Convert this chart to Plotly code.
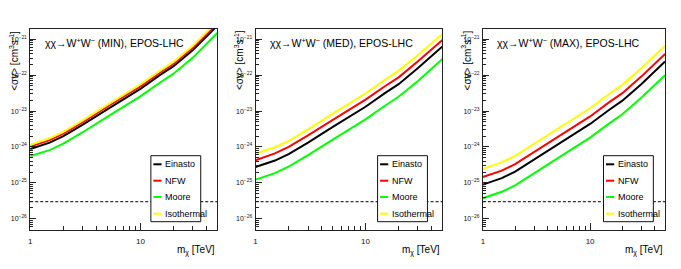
import math
import plotly.graph_objects as go

# ---------------- data ----------------
mass_tev = [1, 1.5, 2, 3, 5, 7, 10, 15, 20, 30, 40, 50]
profiles = ["Einasto", "NFW", "Moore", "Isothermal"]
profile_colors = ["#000000", "#ff0000", "#00ff00", "#ffff00"]
scenarios = ["MIN", "MED", "MAX"]
thermal_relic = 3e-26

min_einasto = [8.71e-25, 1.32e-24, 2.00e-24, 4.17e-24, 1.12e-23, 2.09e-23, 4.17e-23, 1.00e-22, 1.78e-22, 5.01e-22, 1.17e-21, 2.40e-21]
min_nfw = [1.02e-24, 1.55e-24, 2.34e-24, 4.90e-24, 1.32e-23, 2.45e-23, 4.90e-23, 1.17e-22, 2.09e-22, 5.89e-22, 1.38e-21, 2.82e-21]
min_moore = [5.62e-25, 8.13e-25, 1.23e-24, 2.57e-24, 6.92e-24, 1.29e-23, 2.57e-23, 6.17e-23, 1.10e-22, 3.09e-22, 7.41e-22, 1.51e-21]
min_iso = [1.15e-24, 1.74e-24, 2.63e-24, 5.50e-24, 1.48e-23, 2.75e-23, 5.50e-23, 1.32e-22, 2.34e-22, 6.61e-22, 1.55e-21, 3.16e-21]

med_einasto = [2.75e-25, 4.17e-25, 6.31e-25, 1.32e-24, 3.55e-24, 6.61e-24, 1.32e-23, 3.16e-23, 5.62e-23, 1.58e-22, 3.39e-22, 6.31e-22]
med_nfw = [4.27e-25, 6.61e-25, 1.00e-24, 2.09e-24, 5.62e-24, 1.05e-23, 2.09e-23, 4.90e-23, 8.71e-23, 2.45e-22, 5.25e-22, 9.55e-22]
med_moore = [1.23e-25, 1.86e-25, 2.82e-25, 5.89e-25, 1.58e-24, 2.95e-24, 5.89e-24, 1.41e-23, 2.51e-23, 6.92e-23, 1.48e-22, 2.82e-22]
med_iso = [6.46e-25, 9.77e-25, 1.48e-24, 3.09e-24, 8.32e-24, 1.55e-23, 3.09e-23, 7.41e-23, 1.32e-22, 3.63e-22, 7.76e-22, 1.41e-21]

max_einasto = [8.91e-26, 1.35e-25, 2.04e-25, 4.37e-25, 1.17e-24, 2.19e-24, 4.37e-24, 1.07e-23, 1.95e-23, 5.62e-23, 1.23e-22, 2.40e-22]
max_nfw = [1.45e-25, 2.19e-25, 3.31e-25, 7.08e-25, 1.91e-24, 3.55e-24, 7.08e-24, 1.74e-23, 3.16e-23, 9.12e-23, 2.00e-22, 3.89e-22]
max_moore = [3.72e-26, 5.62e-26, 8.51e-26, 1.82e-25, 4.90e-25, 9.12e-25, 1.82e-24, 4.47e-24, 8.13e-24, 2.34e-23, 5.13e-23, 1.00e-22]
max_iso = [2.45e-25, 3.72e-25, 5.62e-25, 1.20e-24, 3.24e-24, 6.03e-24, 1.20e-23, 2.95e-23, 5.37e-23, 1.55e-22, 3.39e-22, 6.61e-22]

panel_series = [
    [min_einasto, min_nfw, min_moore, min_iso],
    [med_einasto, med_nfw, med_moore, med_iso],
    [max_einasto, max_nfw, max_moore, max_iso],
]

y_tick_vals = [1e-26, 1e-25, 1e-24, 1e-23, 1e-22, 1e-21]
y_tick_text = ["10<sup>\u221226</sup>", "10<sup>\u221225</sup>", "10<sup>\u221224</sup>",
               "10<sup>\u221223</sup>", "10<sup>\u221222</sup>", "10<sup>\u221221</sup>"]
x_tick_vals = [1, 10]
x_tick_text = ["1", "10"]

# ---------------- layout geometry (page pixels) ----------------
PAGE_W, PAGE_H = 681, 269
BODY = 8  # default body margin of the html page
W, H = PAGE_W - 2 * BODY, PAGE_H - 2 * BODY
FONT = "Liberation Sans, Arial, sans-serif"
frames = [(28.3, 216.0), (254.3, 441.7), (482.3, 665.0)]
frame_top, frame_bot = 28.5, 229.5
legend_left = [149.3, 376.7, 603.3]
legend_w = 50.0
legend_top, legend_bot = 155.7, 221.7
legend_rows = [164.3, 180.7, 197.0, 213.7]

def px(x):
    return (x - BODY) / W

def py(y):
    return 1 - (y - BODY) / H

x_minor = [2, 3, 4, 5, 6, 7, 8, 9, 20, 30, 40]
y_minor = [m * 10.0 ** e for e in range(-27, -20) for m in range(2, 10)
           if 5e-27 <= m * 10.0 ** e <= 2e-21]

fig = go.Figure()
layout = dict(
    width=W, height=H,
    margin=dict(l=0, r=0, t=0, b=0),
    paper_bgcolor="white", plot_bgcolor="white",
    showlegend=False,
    font=dict(family=FONT, color="black"),
)
annotations = []
shapes = []

for i, (scen, series) in enumerate(zip(scenarios, panel_series)):
    k = "" if i == 0 else str(i + 1)
    xa, ya = "x" + k, "y" + k
    for name, col, vals in zip(profiles, profile_colors, series):
        fig.add_trace(go.Scatter(x=mass_tev, y=vals, mode="lines", name=name,
                                 line=dict(color=col, width=2),
                                 xaxis=xa, yaxis=ya))
    fig.add_trace(go.Scatter(x=[mass_tev[0], mass_tev[-1]], y=[thermal_relic, thermal_relic],
                             mode="lines", line=dict(color="#333333", width=1.2, dash="3px,2px"),
                             xaxis=xa, yaxis=ya, showlegend=False))
    l, r = frames[i]
    layout["xaxis" + k] = dict(
        type="log", range=[0, math.log10(50)], domain=[px(l), px(r)], anchor=ya,
        showgrid=False, zeroline=False, showline=True, linecolor="#222", linewidth=1, mirror=True,
        tickmode="array", tickvals=x_tick_vals, ticktext=x_tick_text,
        ticks="inside", ticklen=7, tickcolor="#222", tickwidth=1,
        minor=dict(tickmode="array", tickvals=x_minor, ticks="inside", ticklen=4,
                   tickcolor="#222", tickwidth=1, showgrid=False),
        tickfont=dict(size=8, family=FONT, color="#111"), ticklabelstandoff=4,
    )
    layout["yaxis" + k] = dict(
        type="log", range=[math.log10(5e-27), math.log10(2e-21)],
        domain=[py(frame_bot), py(frame_top)], anchor=xa,
        showgrid=False, zeroline=False, showline=True, linecolor="#222", linewidth=1, mirror=True,
        tickmode="array", tickvals=y_tick_vals, ticktext=y_tick_text,
        ticks="inside", ticklen=6, tickcolor="#222", tickwidth=1,
        minor=dict(tickmode="array", tickvals=y_minor, ticks="inside", ticklen=3,
                   tickcolor="#222", tickwidth=1, showgrid=False),
        tickfont=dict(size=7, family=FONT, color="#111"), ticklabelstandoff=1,
    )
    # panel title
    annotations.append(dict(
        x=px(l + 12.5), y=py(42.7), xref="paper", yref="paper", xanchor="left", yanchor="middle",
        text="\u03c7\u03c7\u2192W<sup>+</sup>W<sup>\u2212</sup> (" + scen + "), EPOS-LHC",
        showarrow=False, font=dict(size=10.5, family=FONT, color="black")))
    # y-axis title
    annotations.append(dict(
        x=px(l - 16), y=py(frame_top), xref="paper", yref="paper", xanchor="center", yanchor="top",
        text="<\u03c3v> [cm<sup>3</sup>s<sup>-1</sup>]", textangle=-90,
        showarrow=False, font=dict(size=10, family=FONT, color="black")))
    # x-axis title
    annotations.append(dict(
        x=px(r), y=py(250), xref="paper", yref="paper", xanchor="right", yanchor="middle",
        text="m<sub>\u03c7</sub> [TeV]", showarrow=False,
        font=dict(size=10, family=FONT, color="black")))
    # legend box
    bl = legend_left[i]
    shapes.append(dict(type="rect", xref="paper", yref="paper",
                       x0=px(bl), x1=px(bl + legend_w), y0=py(legend_bot), y1=py(legend_top),
                       line=dict(color="#111", width=1), fillcolor="white", layer="above"))
    for name, col, ry in zip(profiles, profile_colors, legend_rows):
        shapes.append(dict(type="line", xref="paper", yref="paper",
                           x0=px(bl + 2.5), x1=px(bl + 10.7), y0=py(ry), y1=py(ry),
                           line=dict(color=col, width=2), layer="above"))
        annotations.append(dict(
            x=px(bl + 12.5), y=py(ry), xref="paper", yref="paper", xanchor="left", yanchor="middle",
            text=name, showarrow=False, font=dict(size=9, family=FONT, color="black")))

layout["annotations"] = annotations
layout["shapes"] = shapes
fig.update_layout(**layout)
fig.write_html("out.html")
